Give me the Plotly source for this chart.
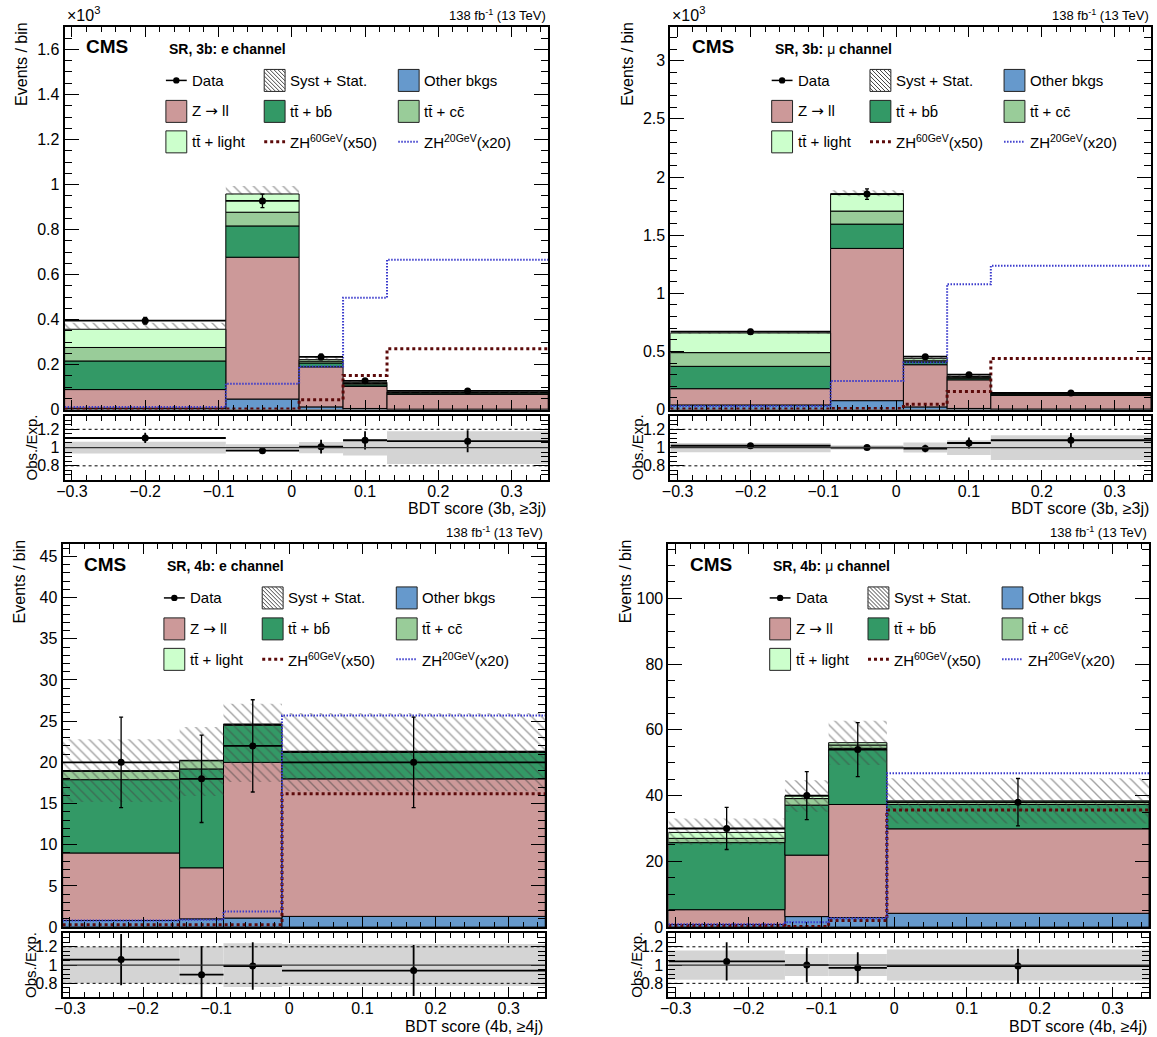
import numpy as np
import plotly.graph_objects as go

W, H = 1157, 1037          # target picture size (pixel coordinates below refer to it)
FIG_H = 1045               # figure height (page viewport is a little taller than the picture)
FONT = "Liberation Sans, Arial, sans-serif"

# ---------------- data ----------------
edges_3b = [-0.31, -0.09, 0.01, 0.07, 0.13, 0.35]
edges_4b = [-0.31, -0.15, -0.09, -0.01, 0.35]
x_range = [-0.31, 0.35]

# SR, 3b: e channel (Events / bin, x10^3)
e3b_other = [0.006, 0.047, 0.012, 0.005, 0.002]
e3b_zll = [0.083, 0.630, 0.178, 0.098, 0.066]
e3b_ttbb = [0.127, 0.139, 0.017, 0.007, 0.005]
e3b_ttcc = [0.060, 0.061, 0.008, 0.006, 0.003]
e3b_ttlf = [0.081, 0.081, 0.007, 0.005, 0.002]
e3b_unc_lo = [0.355, 0.955, 0.214, 0.116, 0.075]
e3b_unc_hi = [0.386, 0.993, 0.236, 0.128, 0.083]
e3b_zh60 = [0.002, 0.003, 0.044, 0.152, 0.270]
e3b_zh20 = [0.011, 0.115, 0.192, 0.497, 0.666]
e3b_data = [0.395, 0.927, 0.234, 0.128, 0.083]
e3b_data_err = [0.015, 0.030, 0.012, 0.010, 0.008]
e3b_ratio = [1.105, 0.966, 1.01, 1.08, 1.07]
e3b_ratio_err = [0.056, 0.02, 0.075, 0.10, 0.12]
e3b_ratio_band = [0.065, 0.035, 0.062, 0.088, 0.18]

# SR, 3b: mu channel (Events / bin, x10^3)
m3b_other = [0.040, 0.077, 0.023, 0.010, 0.005]
m3b_zll = [0.140, 1.309, 0.363, 0.246, 0.117]
m3b_ttbb = [0.192, 0.209, 0.024, 0.014, 0.010]
m3b_ttcc = [0.118, 0.112, 0.010, 0.008, 0.005]
m3b_ttlf = [0.169, 0.149, 0.018, 0.007, 0.005]
m3b_unc_lo = [0.650, 1.835, 0.425, 0.275, 0.136]
m3b_unc_hi = [0.675, 1.885, 0.456, 0.298, 0.149]
m3b_zh60 = [0.005, 0.010, 0.045, 0.155, 0.440]
m3b_zh20 = [0.030, 0.246, 0.404, 1.078, 1.237]
m3b_data = [0.670, 1.853, 0.455, 0.300, 0.143]
m3b_data_err = [0.020, 0.045, 0.018, 0.015, 0.010]
m3b_ratio = [1.02, 1.0, 0.99, 1.05, 1.08]
m3b_ratio_err = [0.025, 0.012, 0.04, 0.06, 0.08]
m3b_ratio_band = [0.05, 0.025, 0.055, 0.08, 0.135]

# SR, 4b: e channel
e4b_other = [0.8, 1.0, 1.1, 1.3]
e4b_zll = [8.2, 6.2, 18.9, 16.7]
e4b_ttbb = [8.9, 12.0, 4.5, 3.2]
e4b_ttcc = [1.0, 1.0, 0.1, 0.1]
e4b_ttlf = [0.1, 0.05, 0.05, 0.05]
e4b_unc_lo = [15.2, 15.9, 17.6, 16.5]
e4b_unc_hi = [22.8, 24.3, 27.1, 26.0]
e4b_zh60 = [0.3, 0.3, 0.3, 16.2]
e4b_zh20 = [0.8, 0.9, 1.9, 25.7]
e4b_data = [20, 18, 22, 20]
e4b_data_err = [5.5, 5.3, 5.6, 5.5]
e4b_ratio = [1.06, 0.895, 0.99, 0.94]
e4b_ratio_err = [0.28, 0.31, 0.26, 0.28]
e4b_ratio_band = [0.2, 0.21, 0.24, 0.23]

# SR, 4b: mu channel
m4b_other = [0.8, 3.2, 2.9, 4.2]
m4b_zll = [4.5, 18.7, 34.4, 25.7]
m4b_ttbb = [20.4, 15.2, 17.1, 7.4]
m4b_ttcc = [1.3, 2.0, 1.0, 0.6]
m4b_ttlf = [1.8, 0.8, 0.7, 0.5]
m4b_unc_lo = [25.0, 35.1, 49.3, 31.5]
m4b_unc_hi = [33.0, 44.7, 62.8, 45.3]
m4b_zh60 = [0.5, 0.2, 2.0, 35.6]
m4b_zh20 = [0.9, 1.5, 2.7, 46.8]
m4b_data = [30, 40, 54, 38]
m4b_data_err = [6.4, 7.3, 8.2, 7.2]
m4b_ratio = [1.04, 1.0, 0.97, 0.99]
m4b_ratio_err = [0.21, 0.19, 0.17, 0.19]
m4b_ratio_band = [0.16, 0.12, 0.12, 0.17]

# ---------------- style ----------------
C_OTHER = "#6699cc"
C_ZLL = "#cc9999"
C_TTBB = "#339966"
C_TTCC = "#99cc99"
C_TTLF = "#ccffcc"
C_ZH60 = "#5c0a0a"
C_ZH20 = "#3a3acc"
TB = "t" + "t\u0304"
ARROW = "<span style='font-family:DejaVu Sans'>\u2192</span>"

panels = [
    dict(edges=edges_3b, comps=[e3b_other, e3b_zll, e3b_ttbb, e3b_ttcc, e3b_ttlf],
         lo=e3b_unc_lo, hi=e3b_unc_hi, zh60=e3b_zh60, zh20=e3b_zh20,
         data=e3b_data, derr=e3b_data_err, ratio=e3b_ratio, rerr=e3b_ratio_err, band=e3b_ratio_band,
         x0=57, x1=544, y0=27, y1=410, ry0=416, ry1=480,
         yrange=[0, 1.7], dtick=0.2, mdtick=0.05, exp=True,
         title="<b>SR, 3b: e channel</b>", xtitle="BDT score (3b, \u22653j)"),
    dict(edges=edges_3b, comps=[m3b_other, m3b_zll, m3b_ttbb, m3b_ttcc, m3b_ttlf],
         lo=m3b_unc_lo, hi=m3b_unc_hi, zh60=m3b_zh60, zh20=m3b_zh20,
         data=m3b_data, derr=m3b_data_err, ratio=m3b_ratio, rerr=m3b_ratio_err, band=m3b_ratio_band,
         x0=667, x1=1151, y0=27, y1=410, ry0=416, ry1=480,
         yrange=[0, 3.29], dtick=0.5, mdtick=0.1, exp=True,
         title="<b>SR, 3b: </b>\u03bc<b> channel</b>", xtitle="BDT score (3b, \u22653j)"),
    dict(edges=edges_4b, comps=[e4b_other, e4b_zll, e4b_ttbb, e4b_ttcc, e4b_ttlf],
         lo=e4b_unc_lo, hi=e4b_unc_hi, zh60=e4b_zh60, zh20=e4b_zh20,
         data=e4b_data, derr=e4b_data_err, ratio=e4b_ratio, rerr=e4b_ratio_err, band=e4b_ratio_band,
         x0=55, x1=541, y0=545, y1=928, ry0=934, ry1=998,
         yrange=[0, 46.45], dtick=5, mdtick=1, exp=False,
         title="<b>SR, 4b: e channel</b>", xtitle="BDT score (4b, \u22654j)"),
    dict(edges=edges_4b, comps=[m4b_other, m4b_zll, m4b_ttbb, m4b_ttcc, m4b_ttlf],
         lo=m4b_unc_lo, hi=m4b_unc_hi, zh60=m4b_zh60, zh20=m4b_zh20,
         data=m4b_data, derr=m4b_data_err, ratio=m4b_ratio, rerr=m4b_ratio_err, band=m4b_ratio_band,
         x0=665, x1=1149, y0=545, y1=928, ry0=934, ry1=998,
         yrange=[0, 116.4], dtick=20, mdtick=5, exp=False,
         title="<b>SR, 4b: </b>\u03bc<b> channel</b>", xtitle="BDT score (4b, \u22654j)"),
]
comp_colors = [C_OTHER, C_ZLL, C_TTBB, C_TTCC, C_TTLF]


def PX(x):
    return x / W


def PY(y):
    return 1 - y / H


fig = go.Figure()
layout = {}
shapes = []
annotations = []
tickfont = dict(family=FONT, size=16, color="black")


def axis_common(**kw):
    d = dict(showline=True, linewidth=2, linecolor="black", mirror="allticks",
             ticks="inside", tickwidth=1, tickcolor="black", showgrid=False,
             zeroline=False, tickfont=tickfont, fixedrange=True)
    d.update(kw)
    return d


def txt(x, y, text, size, xa="left", ya="middle", angle=0):
    annotations.append(dict(x=PX(x), y=PY(y), xref="paper", yref="paper",
                            xanchor=xa, yanchor=ya, showarrow=False, textangle=angle,
                            text=text, font=dict(family=FONT, size=size, color="black")))


for i, p in enumerate(panels):
    nm = 2 * i + 1
    nr = 2 * i + 2
    xm, ym = f"x{nm}", f"y{nm}"
    xr, yr = f"x{nr}", f"y{nr}"
    edges = np.array(p["edges"])
    centers = 0.5 * (edges[1:] + edges[:-1])
    widths = edges[1:] - edges[:-1]

    # axes
    layout[f"xaxis{nm}"] = axis_common(
        domain=[PX(p["x0"]), PX(p["x1"])], anchor=ym, range=x_range,
        dtick=0.1, tick0=0, ticklen=10, showticklabels=False,
        minor=dict(ticks="inside", ticklen=5, dtick=0.02, tick0=0, tickcolor="black", showgrid=False))
    layout[f"yaxis{nm}"] = axis_common(
        domain=[PY(p["y1"]), PY(p["y0"])], anchor=xm, range=p["yrange"],
        dtick=p["dtick"], tick0=0, ticklen=14,
        minor=dict(ticks="inside", ticklen=7, dtick=p["mdtick"], tick0=0, tickcolor="black", showgrid=False))
    layout[f"xaxis{nr}"] = axis_common(
        domain=[PX(p["x0"]), PX(p["x1"])], anchor=yr, range=x_range,
        dtick=0.1, tick0=0, ticklen=10, ticklabelstandoff=-4,
        minor=dict(ticks="inside", ticklen=5, dtick=0.02, tick0=0, tickcolor="black", showgrid=False))
    layout[f"yaxis{nr}"] = axis_common(
        domain=[PY(p["ry1"]), PY(p["ry0"])], anchor=xr, range=[0.65, 1.35],
        dtick=0.2, tick0=0, ticklen=14,
        minor=dict(ticks="inside", ticklen=7, dtick=0.05, tick0=0, tickcolor="black", showgrid=False))

    # stacked backgrounds
    comps = np.array(p["comps"], dtype=float)
    bases = np.vstack([np.zeros(len(centers)), np.cumsum(comps, axis=0)[:-1]])
    for k in range(comps.shape[0]):
        fig.add_trace(go.Bar(x=centers, y=comps[k], base=bases[k], width=widths,
                             marker=dict(color=comp_colors[k], line=dict(color="black", width=1)),
                             xaxis=xm, yaxis=ym, hoverinfo="skip"))
    # uncertainty band (hatched)
    lo = np.array(p["lo"])
    hi = np.array(p["hi"])
    fig.add_trace(go.Bar(x=centers, y=hi - lo, base=lo, width=widths,
                         marker=dict(color="rgba(0,0,0,0)", line=dict(width=0),
                                     pattern=dict(shape="\\", fgcolor="#444444", bgcolor="rgba(0,0,0,0)",
                                                  size=7, solidity=0.2, fillmode="overlay")),
                         xaxis=xm, yaxis=ym, hoverinfo="skip"))
    # signals
    fig.add_trace(go.Scatter(x=edges, y=list(p["zh60"]) + [p["zh60"][-1]], mode="lines",
                             line=dict(shape="hv", color=C_ZH60, width=3, dash="dot"),
                             xaxis=xm, yaxis=ym, hoverinfo="skip"))
    fig.add_trace(go.Scatter(x=edges, y=list(p["zh20"]) + [p["zh20"][-1]], mode="lines",
                             line=dict(shape="hv", color=C_ZH20, width=2, dash="1.5px,1.5px"),
                             xaxis=xm, yaxis=ym, hoverinfo="skip"))
    # data
    fig.add_trace(go.Scatter(x=centers, y=p["data"], mode="markers",
                             marker=dict(color="black", size=7),
                             error_y=dict(type="data", array=p["derr"], color="black", thickness=1.3, width=2),
                             error_x=dict(type="data", array=widths / 2, color="black", thickness=1.8, width=0),
                             xaxis=xm, yaxis=ym, hoverinfo="skip"))

    # ratio band
    band = np.array(p["band"])
    fig.add_trace(go.Bar(x=centers, y=2 * band, base=1 - band, width=widths,
                         marker=dict(color="#d4d4d4", line=dict(width=0)),
                         xaxis=xr, yaxis=yr, hoverinfo="skip"))
    fig.add_trace(go.Scatter(x=centers, y=p["ratio"], mode="markers",
                             marker=dict(color="black", size=7),
                             error_y=dict(type="data", array=p["rerr"], color="black", thickness=1.8, width=0),
                             error_x=dict(type="data", array=widths / 2, color="black", thickness=1.8, width=0),
                             xaxis=xr, yaxis=yr, hoverinfo="skip"))
    for yv, dash, lw, col in [(1.2, "dot", 1, "black"), (0.8, "dot", 1, "black"), (1.0, "solid", 1.3, "#333333")]:
        shapes.append(dict(type="line", xref=f"{xr} domain", yref=yr, x0=0, x1=1, y0=yv, y1=yv,
                           line=dict(color=col, width=lw, dash=dash), layer="above"))

    # ---- texts ----
    x0, x1, y0, y1 = p["x0"], p["x1"], p["y0"], p["y1"]
    if p["exp"]:
        txt(x0, y0 - 1, "\u00d710<sup>3</sup>", 16, ya="bottom")
    txt(x1, y0 - 2, "138 fb<sup>-1</sup> (13 TeV)", 13, xa="right", ya="bottom")
    txt(x0 + 20, y0 + 20, "<b>CMS</b>", 19)
    txt(x0 + 103, y0 + 22, p["title"], 14)
    txt(x0 - 43, y0 - 7, "Events / bin", 16, xa="center", ya="top", angle=-90)
    txt(x0 - 33, 0.5 * (p["ry0"] + p["ry1"]), "Obs./Exp.", 15, xa="center", angle=-90)
    txt(x1, p["ry1"] + 29, p["xtitle"], 16, xa="right")

    # ---- legend ----
    rows = [y0 + 53.5, y0 + 84.5, y0 + 115]
    cols = [x0 + 102, x0 + 201, x0 + 336]
    bw, bh = 21, 22
    entries = [
        ("data", "Data"), ("hatch", "Syst + Stat."), ("box:" + C_OTHER, "Other bkgs"),
        ("box:" + C_ZLL, "Z " + ARROW + " ll"), ("box:" + C_TTBB, TB + " + bb\u0304"),
        ("box:" + C_TTCC, TB + " + cc\u0304"),
        ("box:" + C_TTLF, TB + " + light"), ("zh60", "ZH<sup>60GeV</sup>(x50)"), ("zh20", "ZH<sup>20GeV</sup>(x20)"),
    ]
    for j, (kind, label) in enumerate(entries):
        r, c = divmod(j, 3)
        cy = rows[r]
        bx0 = cols[c]
        bx1 = bx0 + bw
        by0, by1 = cy - bh / 2, cy + bh / 2
        if kind.startswith("box:"):
            shapes.append(dict(type="rect", xref="paper", yref="paper",
                               x0=PX(bx0), x1=PX(bx1), y0=PY(by1), y1=PY(by0),
                               fillcolor=kind[4:], line=dict(color="#222222", width=1)))
        elif kind == "hatch":
            shapes.append(dict(type="rect", xref="paper", yref="paper",
                               x0=PX(bx0), x1=PX(bx1), y0=PY(by1), y1=PY(by0),
                               fillcolor="white", line=dict(color="#222222", width=1)))
            for cc in np.arange(-bh + 3.5, bw, 4.0):
                u0 = max(0.0, cc)
                u1 = min(bw, bh + cc)
                if u1 - u0 > 0.5:
                    shapes.append(dict(type="line", xref="paper", yref="paper",
                                       x0=PX(bx0 + u0), y0=PY(by0 + u0 - cc),
                                       x1=PX(bx0 + u1), y1=PY(by0 + u1 - cc),
                                       line=dict(color="#444444", width=1)))
        elif kind == "data":
            shapes.append(dict(type="line", xref="paper", yref="paper",
                               x0=PX(bx0), x1=PX(bx1), y0=PY(cy), y1=PY(cy),
                               line=dict(color="black", width=1.5)))
            shapes.append(dict(type="circle", xref="paper", yref="paper",
                               x0=PX(bx0 + bw / 2 - 3.2), x1=PX(bx0 + bw / 2 + 3.2),
                               y0=PY(cy + 3.2), y1=PY(cy - 3.2),
                               fillcolor="black", line=dict(color="black", width=0)))
        elif kind == "zh60":
            shapes.append(dict(type="line", xref="paper", yref="paper",
                               x0=PX(bx0), x1=PX(bx1), y0=PY(cy), y1=PY(cy),
                               line=dict(color=C_ZH60, width=3, dash="dot")))
        elif kind == "zh20":
            shapes.append(dict(type="line", xref="paper", yref="paper",
                               x0=PX(bx0), x1=PX(bx1), y0=PY(cy), y1=PY(cy),
                               line=dict(color=C_ZH20, width=2, dash="1.5px,1.5px")))
        txt(bx1 + 3, cy, label, 15)

fig.update_layout(
    width=W, height=FIG_H, autosize=False,
    margin=dict(l=0, r=0, t=0, b=0),
    paper_bgcolor="white", plot_bgcolor="white",
    showlegend=False, barmode="overlay",
    shapes=shapes, annotations=annotations,
    font=dict(family=FONT, color="black"),
    **layout,
)
post = (
    "document.documentElement.style.margin='0';document.documentElement.style.padding='0';"
    "document.documentElement.style.overflow='hidden';"
    "document.body.style.margin='0';document.body.style.padding='0';document.body.style.overflow='hidden';"
    "var gd=document.getElementById('{plot_id}');"
    "gd.style.position='absolute';gd.style.left='0px';gd.style.top='0px';"
)
fig.write_html("out.html", config={"displayModeBar": False, "staticPlot": True}, post_script=post)
